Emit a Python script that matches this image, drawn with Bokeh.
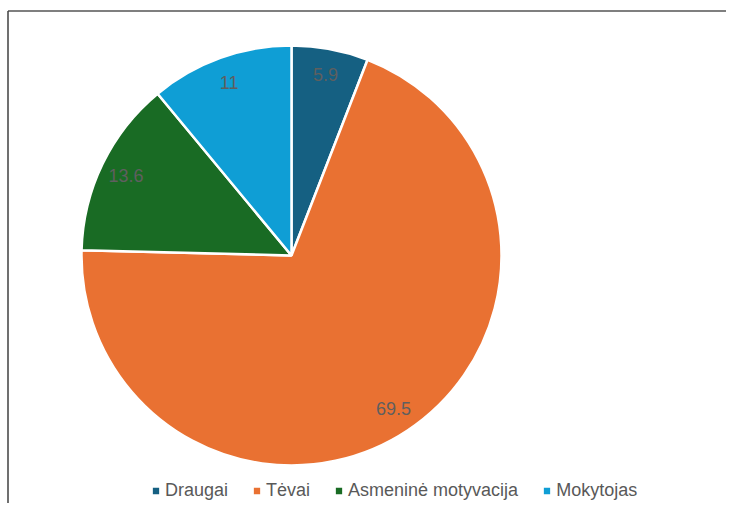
import math
from bokeh.plotting import figure
from bokeh.models import ColumnDataSource, Range1d, Legend, LegendItem
from bokeh.core.properties import value
from bokeh.embed import file_html
from bokeh.resources import INLINE

categories = ["Draugai", "Tėvai", "Asmeninė motyvacija", "Mokytojas"]
values = [5.9, 69.5, 13.6, 11]
labels = ["5.9", "69.5", "13.6", "11"]
colors = ["#156082", "#E97132", "#196B24", "#0F9ED5"]

W, H = 726, 503
cx, cy = 291, 248
R = 210
LR = 184

total = sum(values)
starts, ends, lx, ly = [], [], [], []
cum = 0.0
for v in values:
    a_start = math.pi / 2 - 2 * math.pi * (cum + v) / total
    a_end = math.pi / 2 - 2 * math.pi * cum / total
    mid = (a_start + a_end) / 2
    starts.append(a_start)
    ends.append(a_end)
    lx.append(cx + LR * math.cos(mid))
    ly.append(cy + LR * math.sin(mid))
    cum += v

src = ColumnDataSource(dict(cat=categories, val=values, lab=labels, color=colors,
                            start=starts, end=ends, lx=lx, ly=ly,
                            x=[cx] * 4, y=[cy] * 4))

p = figure(width=W, height=H, output_backend="svg", toolbar_location=None,
           x_range=Range1d(0, W), y_range=Range1d(0, H),
           x_axis_type=None, y_axis_type=None, min_border=0)
p.grid.visible = False
p.outline_line_color = None
p.background_fill_color = "white"
p.border_fill_color = "white"

# chart-area frame (top and left edges visible)
p.segment(x0=[7.5], y0=[H - 10.5], x1=[W], y1=[H - 10.5], line_color="#555555", line_width=1.5)
p.segment(x0=[7.5], y0=[H - 10.5], x1=[7.5], y1=[0], line_color="#404040", line_width=1.5)

wr = p.wedge(x="x", y="y", radius=R, radius_units="screen",
             start_angle="start", end_angle="end",
             fill_color="color", line_color="white", line_width=2.5,
             source=src)

p.text(x="lx", y="ly", text="lab", source=src,
       text_align="center", text_baseline="middle",
       text_font=value("Liberation Sans"), text_font_size="18px",
       text_color="#5f5f5f")

items = [LegendItem(label=c, renderers=[wr], index=i) for i, c in enumerate(categories)]
legend = Legend(items=items, orientation="horizontal", location=(150, 2),
                glyph_width=11, glyph_height=11, label_standoff=4, spacing=23,
                padding=0, margin=0,
                label_text_font="Liberation Sans", label_text_font_size="18px",
                label_text_color="#595959",
                background_fill_alpha=0, border_line_color=None)
p.add_layout(legend)

open("out.html", "w").write(file_html(p, INLINE))
